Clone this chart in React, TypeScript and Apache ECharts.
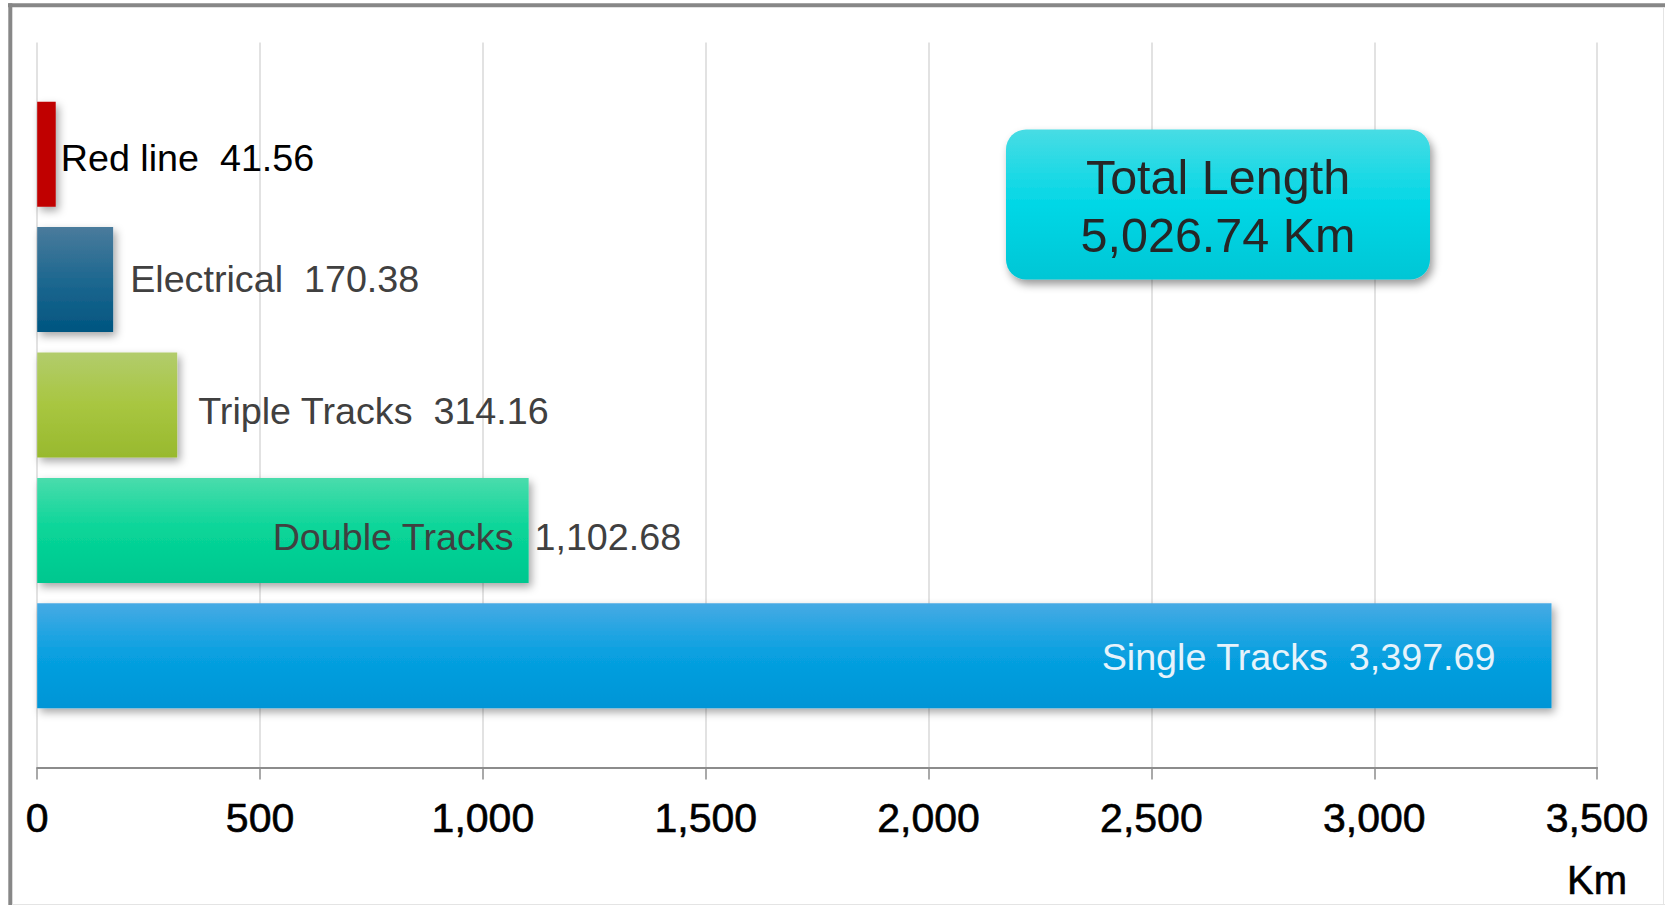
import React, { useEffect, useRef } from "react";
import * as echarts from "echarts";

const categories = ["Red line", "Electrical", "Triple Tracks", "Double Tracks", "Single Tracks"];
const values = [41.56, 170.38, 314.16, 1102.68, 3397.69];
const axisMin = 0;
const axisMax = 3500;
const axisInterval = 500;
const axisUnit = "Km";
const totalTitle = "Total Length";
const totalValue = "5,026.74 Km";

const barGradients: string[][] = [
  ["#C00000", "#C00000", "#C00000"],
  ["#4A7B9C", "#1E6890", "#005580"],
  ["#B2CC6C", "#A8C640", "#98B92E"],
  ["#4ADCAC", "#08D598", "#00C78F"],
  ["#46AAE4", "#07A0E0", "#0095D6"],
];
const labelColors = ["#000000", "#404040", "#404040", "#404040", "#E6F3FB"];
const labelSetups: any[] = [
  { position: "right", distance: 5, offset: [0, 4] },
  { position: "right", distance: 17, offset: [0, -1] },
  { position: "right", distance: 21, offset: [0, 6] },
  { position: "right", distance: 0, offset: [-256, 7] },
  { position: "insideRight", distance: 56, offset: [0, 1] },
];

const FONT = "'Liberation Sans', Arial, Helvetica, sans-serif";

const fmt = (v: number) =>
  v.toLocaleString("en-US", { minimumFractionDigits: 2, maximumFractionDigits: 2 });

export default function App() {
  const ref = useRef<HTMLDivElement>(null);
  useEffect(() => {
    if (!ref.current) return;
    const chart = echarts.init(ref.current, undefined, { renderer: "svg" });
    const grad = (stops: string[]) =>
      new echarts.graphic.LinearGradient(0, 0, 0, 1, [
        { offset: 0, color: stops[0] },
        { offset: 0.5, color: stops[1] },
        { offset: 1, color: stops[2] },
      ]);
    const data = values.map((v, i) => ({
      value: v,
      itemStyle: {
        color: grad(barGradients[i]),
        shadowBlur: 8,
        shadowColor: "rgba(0,0,0,0.35)",
        shadowOffsetX: 3,
        shadowOffsetY: 4,
      },
      label: {
        show: true,
        color: labelColors[i],
        ...labelSetups[i],
      },
    }));
    const option: any = {
      animation: false,
      backgroundColor: "#ffffff",
      grid: [
        { left: 37.2, right: 67.9, top: 42.5, bottom: 137.5, containLabel: false },
        { left: 37.2, right: 67.9, top: 91.5, bottom: 186.5, containLabel: false },
      ],
      xAxis: [
        {
          type: "value",
          gridIndex: 0,
          min: axisMin,
          max: axisMax,
          interval: axisInterval,
          axisLine: { show: true, lineStyle: { color: "#8c8c8c", width: 2 } },
          axisTick: { show: true, length: 12, lineStyle: { color: "#8c8c8c", width: 1.5 } },
          splitLine: { show: true, lineStyle: { color: "#d9d9d9", width: 1.5 } },
          axisLabel: {
            color: "#000000",
            fontSize: 41,
            fontFamily: FONT,
            margin: 30,
            lineHeight: 41,
            textBorderColor: "#000000",
            textBorderWidth: 0.6,
            formatter: (v: number) => v.toLocaleString("en-US"),
          },
        },
        {
          type: "value",
          gridIndex: 1,
          min: axisMin,
          max: axisMax,
          interval: axisInterval,
          show: false,
        },
      ],
      yAxis: [
        { type: "category", gridIndex: 0, data: categories, show: false },
        {
          type: "category",
          gridIndex: 1,
          data: categories,
          inverse: true,
          show: false,
        },
      ],
      series: [
        {
          type: "bar",
          xAxisIndex: 1,
          yAxisIndex: 1,
          data,
          barWidth: 105,
          label: {
            show: true,
            fontSize: 37.7,
            fontFamily: FONT,
            formatter: (p: any) => `${p.name}  ${fmt(p.value)}`,
          },
        },
      ],
      graphic: [
        {
          type: "line",
          z: 20,
          shape: { x1: 8, y1: 5.3, x2: 1665, y2: 5.3 },
          style: { stroke: "#878787", lineWidth: 4 },
        },
        {
          type: "line",
          z: 20,
          shape: { x1: 10.3, y1: 3.3, x2: 10.3, y2: 905 },
          style: { stroke: "#878787", lineWidth: 4 },
        },
        {
          type: "line",
          z: 20,
          shape: { x1: 1663.5, y1: 7, x2: 1663.5, y2: 905 },
          style: { stroke: "#e4e4e4", lineWidth: 1 },
        },
        {
          type: "line",
          z: 20,
          shape: { x1: 12, y1: 904.5, x2: 1665, y2: 904.5 },
          style: { stroke: "#e4e4e4", lineWidth: 1 },
        },
        {
          type: "rect",
          z: 20,
          shape: { x: 1006, y: 129.5, width: 424, height: 150, r: 20 },
          style: {
            fill: new echarts.graphic.LinearGradient(0, 0, 0, 1, [
              { offset: 0, color: "#48DCE4" },
              { offset: 0.5, color: "#02D7E6" },
              { offset: 1, color: "#00C6D5" },
            ]),
            shadowBlur: 8,
            shadowColor: "rgba(0,0,0,0.4)",
            shadowOffsetX: 3,
            shadowOffsetY: 5,
          },
        },
        {
          type: "text",
          z: 21,
          x: 1218,
          y: 206,
          style: {
            text: `${totalTitle}\n${totalValue}`,
            align: "center",
            verticalAlign: "middle",
            fontSize: 48.5,
            fontFamily: FONT,
            lineHeight: 58.6,
            fill: "#262626",
          },
        },
        {
          type: "text",
          z: 21,
          x: 1597,
          y: 880,
          style: {
            text: axisUnit,
            align: "center",
            verticalAlign: "middle",
            fontSize: 40,
            fontFamily: FONT,
            fill: "#000000",
            stroke: "#000000",
            lineWidth: 0.6,
          },
        },
      ],
    };
    chart.setOption(option);
    return () => chart.dispose();
  }, []);
  return (
    <div
      ref={ref}
      style={{ position: "fixed", left: 0, top: 0, width: 1665, height: 905 }}
    />
  );
}
